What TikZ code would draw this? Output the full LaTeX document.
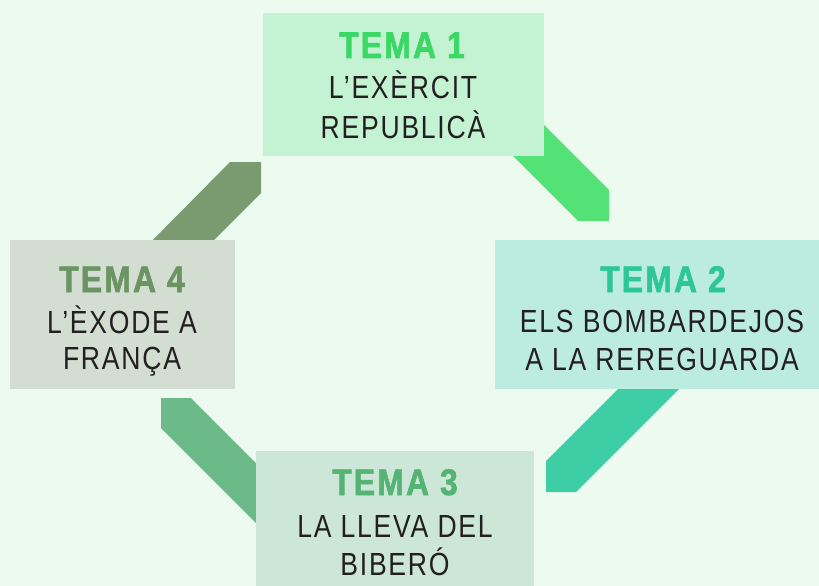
\documentclass[tikz,border=0pt]{standalone}
\usepackage{fontspec}
\setmainfont{Liberation Sans}[FakeStretch=0.83, LetterSpace=5.5]
\newfontfamily\titlefont{Liberation Sans}[UprightFont=* Bold, FakeStretch=0.86, FakeBold=1.6, LetterSpace=6]
\definecolor{bg}{HTML}{ECFAF0}
\definecolor{boxA}{HTML}{C3F3D2}
\definecolor{boxB}{HTML}{BCECDF}
\definecolor{boxC}{HTML}{CCE7D7}
\definecolor{boxD}{HTML}{D3DDD2}
\definecolor{bandA}{HTML}{54E176}
\definecolor{bandB}{HTML}{3DCEA5}
\definecolor{bandC}{HTML}{6BBA87}
\definecolor{bandD}{HTML}{7A9A6F}
\definecolor{ttlA}{HTML}{3BD866}
\definecolor{ttlB}{HTML}{2DC795}
\definecolor{ttlC}{HTML}{55B374}
\definecolor{ttlD}{HTML}{6A9563}
\definecolor{textdark}{HTML}{231F20}
\begin{document}
\begin{tikzpicture}[x=1pt,y=-1pt,
  box/.style={rectangle, draw=none, inner sep=0pt, outer sep=0pt},
  ttl/.style={anchor=base, inner sep=0pt, font=\fontsize{37}{37}\titlefont},
  txt/.style={anchor=base, inner sep=0pt, text=textdark, font=\fontsize{32}{32}\selectfont}]
\useasboundingbox (0,0) rectangle (819,586);
\clip (0,0) rectangle (819,586);
\fill[bg] (0,0) rectangle (819,586);
% bands
\fill[bandD] (230,162) -- (261,162) -- (261,193) -- (204,250) -- (143,250) -- cycle;
\fill[bandA] (530,111) -- (609,190) -- (609,221) -- (578,221) -- (500,143) -- cycle;
\fill[bandB] (628,379) -- (546,461) -- (546,492) -- (576,492) -- (689,379) -- cycle;
\fill[bandC] (161,398) -- (191,398) -- (266,473) -- (266,533) -- (161,428) -- cycle;
% boxes
\node[box, fill=boxA, minimum width=281pt, minimum height=143pt] (b1) at (403.5,84.5) {};
\node[box, fill=boxB, minimum width=335pt, minimum height=149pt] (b2) at (662.5,314.5) {};
\node[box, fill=boxC, minimum width=278pt, minimum height=149pt] (b3) at (395,525.5) {};
\node[box, fill=boxD, minimum width=225pt, minimum height=149pt] (b4) at (122.5,314.5) {};
% texts
\node[ttl, text=ttlA] (t1) at (402,58) {TEMA 1};
\node[txt] (t1a) at (403,99) {L’EXÈRCIT};
\node[txt] (t1b) at (403,138) {REPUBLICÀ};
\node[ttl, text=ttlB] (t2) at (663,292) {TEMA 2};
\node[txt] (t2a) at (662,332) {ELS BOMBARDEJOS};
\node[txt] (t2b) at (662,370) {A LA REREGUARDA};
\node[ttl, text=ttlC] (t3) at (395,495) {TEMA 3};
\node[txt] (t3a) at (395,537) {LA LLEVA DEL};
\node[txt] (t3b) at (395,575) {BIBERÓ};
\node[ttl, text=ttlD] (t4) at (122,292) {TEMA 4};
\node[txt] (t4a) at (122,333) {L’ÈXODE A};
\node[txt] (t4b) at (122,369) {FRANÇA};
\end{tikzpicture}
\end{document}
